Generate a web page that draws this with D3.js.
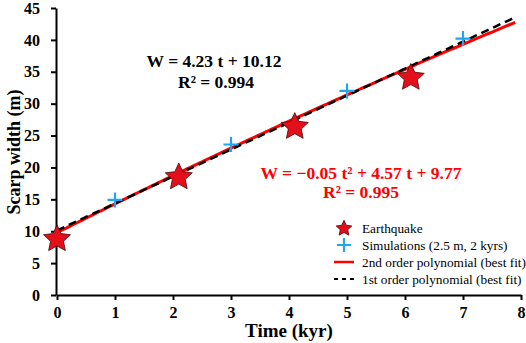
<!DOCTYPE html>
<html><head><meta charset="utf-8">
<script src="https://cdn.jsdelivr.net/npm/d3@7"></script>
<style>body{margin:0;background:#fff}svg{display:block}</style>
</head><body><svg id="c" width="526" height="343"></svg>
<script>
const eqT = [0, 2.1, 4.1, 6.1];
const eqW = [9.0, 18.7, 26.6, 34.3];
const simT = [1, 3, 5, 7];
const simW = [14.9, 23.6, 32.0, 40.2];
const lin = {a: 4.23, b: 10.12, r2: "0.994"};
const quad = {a: -0.05, b: 4.57, c: 9.77, r2: "0.995"};
const fitRange = [0, 7.9];
const xTicks = [0,1,2,3,4,5,6,7,8];
const yTicks = [0,5,10,15,20,25,30,35,40,45];
const legendLabels = ["Earthquake","Simulations (2.5 m, 2 kyrs)","2nd order polynomial (best fit)","1st order polynomial (best fit)"];

const svg = d3.select("#c");
const font = "'Liberation Serif','Times New Roman',serif";
const x = d3.scaleLinear().domain([0,8]).range([57,521]);
const y = d3.scaleLinear().domain([0,45]).range([295,8]);

// axes
const xa = svg.append("g").attr("transform","translate(0,295)")
  .call(d3.axisBottom(x).tickValues(xTicks).tickSize(5).tickSizeOuter(0).tickFormat(d3.format("d")));
const ya = svg.append("g").attr("transform","translate(56,0)")
  .call(d3.axisLeft(y).tickValues(yTicks).tickSize(5).tickSizeOuter(0).tickFormat(d3.format("d")));
[xa,ya].forEach(g=>{
  g.select(".domain").attr("stroke","#000").attr("stroke-width",2);
  g.selectAll(".tick line").attr("stroke","#000").attr("stroke-width",2);
  g.selectAll("text").attr("font-family",font).attr("font-weight","bold").attr("font-size",16).attr("fill","#000");
});
xa.selectAll("text").attr("dy","0.94em");
ya.selectAll("text").attr("x",-16);

// fits
const ts = d3.range(fitRange[0], fitRange[1]+0.0001, 0.05);
const line = d3.line().x(d=>x(d[0])).y(d=>y(d[1]));
svg.append("path").datum(ts.map(t=>[t, quad.a*t*t+quad.b*t+quad.c]))
  .attr("d",line).attr("fill","none").attr("stroke","#ff0000").attr("stroke-width",3);
svg.append("path").datum(ts.map(t=>[t, lin.a*t+lin.b]))
  .attr("d",line).attr("fill","none").attr("stroke","#000").attr("stroke-width",2.5).attr("stroke-dasharray","8,5");

// markers: fat five-point star (symbol type, size = outer radius)
const fatStar = {draw(ctx, r){
  for (let i=0;i<10;i++){
    const rr = i%2 ? r*0.48 : r;
    const a = -Math.PI/2 + i*Math.PI/5;
    const px = rr*Math.cos(a), py = rr*Math.sin(a);
    i ? ctx.lineTo(px,py) : ctx.moveTo(px,py);
  }
  ctx.closePath();
}};
function drawStar(g, cx, cy, r){
  g.append("path").attr("d", d3.symbol().type(fatStar).size(r)()).attr("transform",`translate(${cx},${cy+1.5})`)
    .attr("fill","#e3101b").attr("stroke","#4a0808").attr("stroke-width",0.8);
}
function drawPlus(g, cx, cy, h){
  g.append("path").attr("d",`M${cx-h},${cy}H${cx+h}M${cx},${cy-h}V${cy+h}`)
    .attr("stroke","#1ea7ee").attr("stroke-width",2.2).attr("fill","none");
}
simT.forEach((t,i)=>drawPlus(svg, x(t), y(simW[i]), 7.5));
eqT.forEach((t,i)=>drawStar(svg, x(t), y(eqW[i]), 14.2));

// equations
svg.append("text").attr("x",214).attr("y",67).attr("text-anchor","middle")
  .attr("font-family",font).attr("font-weight","bold").attr("font-size",17.5)
  .text(`W = ${lin.a} t + ${lin.b}`);
svg.append("text").attr("x",216).attr("y",88).attr("text-anchor","middle")
  .attr("font-family",font).attr("font-weight","bold").attr("font-size",17.5)
  .text(`R² = ${lin.r2}`);
svg.append("text").attr("x",361).attr("y",179).attr("text-anchor","middle")
  .attr("font-family",font).attr("font-weight","bold").attr("font-size",17.5).attr("fill","#ff0000")
  .text(`W = −${Math.abs(quad.a).toFixed(2)} t² + ${quad.b} t + ${quad.c}`);
svg.append("text").attr("x",361).attr("y",198).attr("text-anchor","middle")
  .attr("font-family",font).attr("font-weight","bold").attr("font-size",17.5).attr("fill","#ff0000")
  .text(`R² = ${quad.r2}`);

// legend
const lg = svg.append("g");
const ly = [228, 245, 262, 279];
drawStar(lg, 344, ly[0]-1, 8.2);
drawPlus(lg, 344, ly[1], 7);
lg.append("line").attr("x1",334).attr("x2",354).attr("y1",ly[2]).attr("y2",ly[2]).attr("stroke","#ff0000").attr("stroke-width",2.5);
lg.append("line").attr("x1",334).attr("x2",355).attr("y1",ly[3]).attr("y2",ly[3]).attr("stroke","#000").attr("stroke-width",2).attr("stroke-dasharray","4,4");
legendLabels.forEach((s,i)=>lg.append("text").attr("x",362).attr("y",ly[i]).attr("dy","0.35em")
  .attr("font-family",font).attr("font-size",13.3).attr("fill","#000").text(s));

// axis titles
svg.append("text").attr("x",289).attr("y",337).attr("text-anchor","middle")
  .attr("font-family",font).attr("font-weight","bold").attr("font-size",19).text("Time (kyr)");
svg.append("text").attr("transform","translate(20,152) rotate(-90)").attr("text-anchor","middle")
  .attr("font-family",font).attr("font-weight","bold").attr("font-size",18).text("Scarp width (m)");
</script></body></html>
